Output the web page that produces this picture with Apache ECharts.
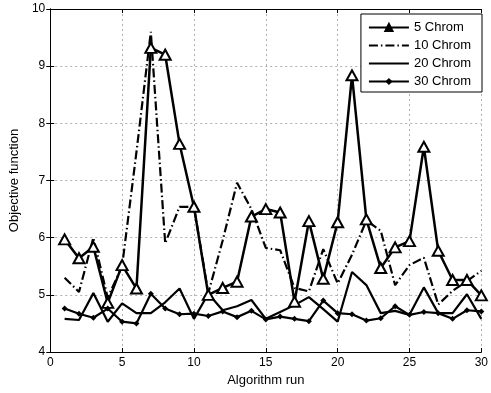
<!DOCTYPE html>
<html>
<head>
<meta charset="utf-8">
<script src="https://cdn.jsdelivr.net/npm/echarts@6/dist/echarts.min.js"></script>
<style>
  html, body {margin: 0; padding: 0; background: #fff;}
  #chart {width: 491px; height: 393px;}
</style>
</head>
<body>
<div id="chart"></div>
<script>
const runs = [1, 2, 3, 4, 5, 6, 7, 8, 9, 10, 11, 12, 13, 14, 15, 16, 17, 18, 19, 20, 21, 22, 23, 24, 25, 26, 27, 28, 29, 30];
const chrom5 = [5.97, 5.64, 5.84, 4.86, 5.52, 5.11, 9.32, 9.2, 7.64, 6.54, 5.0, 5.12, 5.23, 6.37, 6.5, 6.44, 4.88, 6.29, 5.28, 6.27, 8.84, 6.32, 5.47, 5.83, 5.94, 7.59, 5.77, 5.26, 5.26, 4.99];
const chrom10 = [5.3, 5.05, 6.0, 4.95, 5.5, 7.5, 9.6, 5.9, 6.54, 6.54, 5.03, 5.95, 6.96, 6.5, 5.82, 5.78, 5.12, 5.06, 5.8, 5.2, 5.7, 6.3, 6.12, 5.17, 5.52, 5.65, 4.83, 5.07, 5.24, 5.42];
const chrom20 = [4.58, 4.56, 5.03, 4.53, 4.85, 4.68, 4.68, 4.87, 5.11, 4.58, 5.02, 4.73, 4.8, 4.91, 4.58, 4.7, 4.82, 4.96, 4.75, 4.53, 5.4, 5.17, 4.68, 4.72, 4.65, 5.13, 4.68, 4.68, 5.01, 4.58];
const chrom30 = [4.76, 4.67, 4.6, 4.76, 4.53, 4.5, 5.02, 4.76, 4.66, 4.67, 4.63, 4.71, 4.61, 4.72, 4.57, 4.62, 4.58, 4.54, 4.9, 4.68, 4.66, 4.55, 4.59, 4.8, 4.65, 4.7, 4.68, 4.58, 4.73, 4.71];
const names = ['5 Chrom', '10 Chrom', '20 Chrom', '30 Chrom'];
const xTicks = [0, 5, 10, 15, 20, 25, 30];
const yTicks = [4, 5, 6, 7, 8, 9, 10];

const font = 'Liberation Sans, Arial, sans-serif';
const pairs = (ys) => runs.map((x, i) => [x, ys[i]]);

const chart = echarts.init(document.getElementById('chart'));

const gridLine = {show: true, lineStyle: {color: '#b0b0b0', type: [2, 3], width: 1}};
const boxAxis = {show: true, lineStyle: {color: '#000', width: 1}};
const tick = {show: true, inside: true, length: 4, lineStyle: {color: '#000'}};

chart.setOption({
  animation: false,
  backgroundColor: '#fff',
  textStyle: {fontFamily: font},
  grid: {left: 49, right: 9, top: 9, bottom: 41},
  legend: {
    data: [
      {name: names[0], itemStyle: {color: '#000'}},
      {name: names[1], itemStyle: {opacity: 0}},
      {name: names[2], itemStyle: {opacity: 0}},
      {name: names[3]}
    ],
    orient: 'vertical',
    right: 9,
    top: 14,
    padding: [7, 11, 4, 7],
    itemGap: 5,
    itemWidth: 40,
    itemHeight: 9,
    backgroundColor: '#fff',
    borderColor: '#000',
    borderWidth: 1,
    borderRadius: 0,
    textStyle: {fontFamily: font, fontSize: 13, lineHeight: 13, color: '#000'}
  },
  xAxis: [{
    type: 'value',
    min: xTicks[0],
    max: xTicks[xTicks.length - 1],
    interval: 5,
    name: 'Algorithm run',
    nameLocation: 'middle',
    nameGap: 20,
    nameTextStyle: {fontFamily: font, fontSize: 13, color: '#000'},
    axisLine: boxAxis,
    axisTick: tick,
    axisLabel: {fontFamily: font, fontSize: 12, color: '#000', margin: 5},
    splitLine: gridLine
  }, {
    type: 'value',
    position: 'top',
    min: 0, max: 30, interval: 5,
    axisLine: boxAxis,
    axisTick: tick,
    axisLabel: {show: false},
    splitLine: {show: false}
  }],
  yAxis: [{
    type: 'value',
    min: yTicks[0],
    max: yTicks[yTicks.length - 1],
    interval: 1,
    name: 'Objective function',
    nameLocation: 'middle',
    nameGap: 28,
    nameTextStyle: {fontFamily: font, fontSize: 13, color: '#000'},
    axisLine: boxAxis,
    axisTick: tick,
    axisLabel: {fontFamily: font, fontSize: 12, color: '#000', margin: 5},
    splitLine: gridLine
  }, {
    type: 'value',
    position: 'right',
    min: 4, max: 10, interval: 1,
    axisLine: boxAxis,
    axisTick: tick,
    axisLabel: {show: false},
    splitLine: {show: false}
  }],
  series: [{
    name: names[0],
    type: 'line',
    data: pairs(chrom5),
    symbol: 'triangle',
    symbolSize: [11, 10],
    lineStyle: {color: '#000', width: 2.5},
    itemStyle: {color: '#fff', borderColor: '#000', borderWidth: 2}
  }, {
    name: names[1],
    type: 'line',
    data: pairs(chrom10),
    symbol: 'none',
    lineStyle: {color: '#000', width: 2.2, type: [9, 3, 1.5, 3]},
    itemStyle: {color: '#000'}
  }, {
    name: names[2],
    type: 'line',
    data: pairs(chrom20),
    symbol: 'none',
    lineStyle: {color: '#000', width: 2.2},
    itemStyle: {color: '#000'}
  }, {
    name: names[3],
    type: 'line',
    data: pairs(chrom30),
    symbol: 'diamond',
    symbolSize: 6,
    lineStyle: {color: '#000', width: 2.2},
    itemStyle: {color: '#000'}
  }]
});
</script>
</body>
</html>
